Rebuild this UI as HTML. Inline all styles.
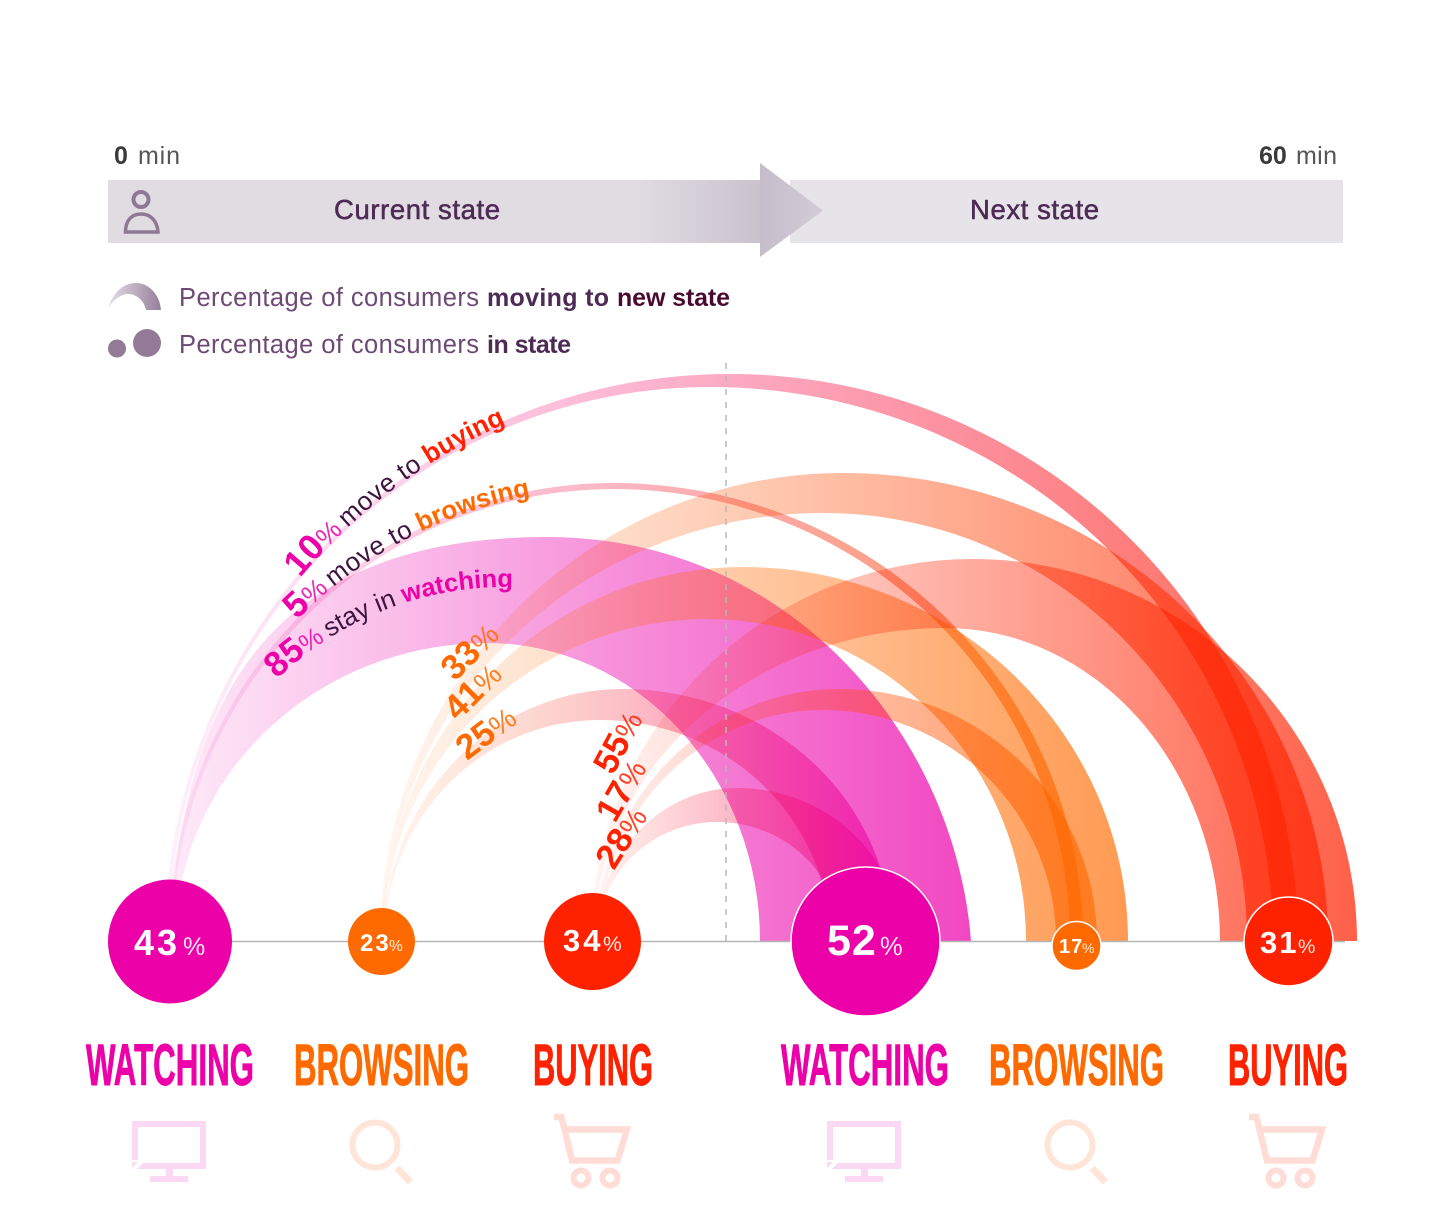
<!DOCTYPE html>
<html><head><meta charset="utf-8"><style>
html,body{margin:0;padding:0;background:#fff}
svg{display:block}
text{font-family:"Liberation Sans",sans-serif}
.n{font-weight:700;fill:#fff}
.p{font-weight:400;fill:#fff;fill-opacity:.9}
.lab{font-weight:700;font-size:58.5px;stroke-width:.9px}
</style></head><body>
<svg width="1440" height="1222" viewBox="0 0 1440 1222" xmlns="http://www.w3.org/2000/svg">
<defs>
<linearGradient id="gww" gradientUnits="userSpaceOnUse" x1="170" x2="971" y1="0" y2="0"><stop offset="0" stop-color="#ec00aa" stop-opacity=".08"/><stop offset="1" stop-color="#ec00aa" stop-opacity=".72"/></linearGradient>
<linearGradient id="gwb" gradientUnits="userSpaceOnUse" x1="170" x2="1083" y1="0" y2="0"><stop offset="0" stop-color="#ec00aa" stop-opacity=".06"/><stop offset="1" stop-color="#ff6a00" stop-opacity=".68"/></linearGradient>
<linearGradient id="gwu" gradientUnits="userSpaceOnUse" x1="170" x2="1298" y1="0" y2="0"><stop offset="0" stop-color="#ec00aa" stop-opacity=".06"/><stop offset="1" stop-color="#ff2200" stop-opacity=".66"/></linearGradient>
<linearGradient id="gbw" gradientUnits="userSpaceOnUse" x1="383" x2="892" y1="0" y2="0"><stop offset="0" stop-color="#ff6a00" stop-opacity=".06"/><stop offset="1" stop-color="#ec00aa" stop-opacity=".62"/></linearGradient>
<linearGradient id="gbb" gradientUnits="userSpaceOnUse" x1="383" x2="1128" y1="0" y2="0"><stop offset="0" stop-color="#ff6a00" stop-opacity=".06"/><stop offset="1" stop-color="#ff6a00" stop-opacity=".68"/></linearGradient>
<linearGradient id="gbu" gradientUnits="userSpaceOnUse" x1="383" x2="1328" y1="0" y2="0"><stop offset="0" stop-color="#ff6a00" stop-opacity=".06"/><stop offset="1" stop-color="#ff2200" stop-opacity=".68"/></linearGradient>
<linearGradient id="guw" gradientUnits="userSpaceOnUse" x1="595" x2="900" y1="0" y2="0"><stop offset="0" stop-color="#ff2200" stop-opacity=".05"/><stop offset="1" stop-color="#ec00aa" stop-opacity=".6"/></linearGradient>
<linearGradient id="gub" gradientUnits="userSpaceOnUse" x1="595" x2="1097" y1="0" y2="0"><stop offset="0" stop-color="#ff2200" stop-opacity=".05"/><stop offset="1" stop-color="#ff6a00" stop-opacity=".66"/></linearGradient>
<linearGradient id="guu" gradientUnits="userSpaceOnUse" x1="595" x2="1357" y1="0" y2="0"><stop offset="0" stop-color="#ff2200" stop-opacity=".05"/><stop offset="1" stop-color="#ff2200" stop-opacity=".72"/></linearGradient>
<linearGradient id="bar" gradientUnits="userSpaceOnUse" x1="108" x2="770" y1="0" y2="0"><stop offset="0" stop-color="#e0dce2"/><stop offset=".8" stop-color="#e0dce2"/><stop offset="1" stop-color="#c8c0cc"/></linearGradient>
<linearGradient id="head" gradientUnits="userSpaceOnUse" x1="760" x2="823" y1="0" y2="0"><stop offset="0" stop-color="#c6bdcb"/><stop offset="1" stop-color="#d2ccd6"/></linearGradient>
<linearGradient id="arch" gradientUnits="userSpaceOnUse" x1="108" x2="161" y1="0" y2="0"><stop offset="0" stop-color="#e4dfe7"/><stop offset="1" stop-color="#96809b"/></linearGradient>
<path id="t1" d="M300 578 A560 560 0 0 1 570 400"/>
<path id="t2" d="M297 620 A445 445 0 0 1 570 490"/>
<path id="t3" d="M277 679 A330 330 0 0 1 550 590"/>
</defs>

<!-- header -->
<text x="114" y="164" font-size="25" font-weight="700" fill="#3a3a3a">0</text>
<text x="138" y="164" font-size="25" fill="#555" textLength="42">min</text>
<text x="1259" y="164" font-size="25" font-weight="700" fill="#3a3a3a">60</text>
<text x="1296" y="164" font-size="25" fill="#555" textLength="41">min</text>
<rect x="790" y="180" width="553" height="63" fill="#e6e4e9"/>
<rect x="108" y="180" width="655" height="63" fill="url(#bar)"/>
<polygon points="760,163 823,210.5 760,257" fill="url(#head)"/>
<text x="334" y="219" font-size="27.5" fill="#4d2b55" stroke="#4d2b55" stroke-width=".55" textLength="166">Current state</text>
<text x="970" y="219" font-size="27.5" fill="#4d2b55" stroke="#4d2b55" stroke-width=".55" textLength="129">Next state</text>
<circle cx="141" cy="199.5" r="7.5" fill="none" stroke="#8e7893" stroke-width="4"/>
<path d="M125.5 232 C125.5 220 132 214 141 214 C150 214 157 220 158 232 Z" fill="none" stroke="#8e7893" stroke-width="3.5"/>

<!-- legend -->
<path d="M108 310 C112 292 124 283 136 283 C150 283 160 296 161 310 L146 310 C144 299 134 293 126 294 C118 296 110 303 108 310Z" fill="url(#arch)"/>
<circle cx="117" cy="348.5" r="9" fill="#937b98"/>
<circle cx="147" cy="343" r="14" fill="#937b98"/>
<text x="179" y="306" font-size="25.5" fill="#6d4a75" textLength="300">Percentage of consumers</text>
<text x="487" y="306" font-size="25" font-weight="700" fill="#4d2b55" textLength="122">moving to</text>
<text x="617" y="306" font-size="25" font-weight="700" fill="#4a0a30" textLength="113">new state</text>
<text x="179" y="353" font-size="25.5" fill="#6d4a75" textLength="300">Percentage of consumers</text>
<text x="487" y="353" font-size="25" font-weight="700" fill="#4d2b55" textLength="84">in state</text>

<!-- ribbons -->
<path fill="url(#gww)" d="M174 880 C195 700 270 537 547 537 C790 537 955 735 971 941 L760 941 A273 298 0 0 0 487 643 A312 298 0 0 0 182 880Z"/>
<path fill="url(#gwb)" d="M172 880 A445 458 0 0 1 613 483 A470 458 0 0 1 1083 941 L1070 941 A457 452 0 0 0 613 489 A441 452 0 0 0 176 880Z"/>
<path fill="url(#gwu)" d="M168 880 A564 567 0 0 1 730 374 A568 567 0 0 1 1298 941 L1273 941 A563 554 0 0 0 710 387 A541 554 0 0 0 172 880Z"/>
<path fill="url(#gbb)" d="M383 908 A361 374 0 0 1 743 567 A385 374 0 0 1 1128 941 L1026 941 A319 322 0 0 0 707 619 A324 322 0 0 0 385 908Z"/>
<path fill="url(#gbu)" d="M381 908 A463 468 0 0 1 843 473 A485 468 0 0 1 1328 941 L1247 941 A424 428 0 0 0 823 513 A440 428 0 0 0 384 908Z"/>
<path fill="url(#gbw)" d="M385 908 A240 252 0 0 1 623 689 A269 252 0 0 1 892 941 L830 941 A230 221 0 0 0 600 720 A215 221 0 0 0 387 908Z"/>
<path fill="url(#guu)" d="M594 893 A382 382 0 0 1 973 559 A384 382 0 0 1 1357 941 L1220 941 A275 313 0 0 0 945 628 A351 313 0 0 0 598 893Z"/>
<path fill="url(#gub)" d="M600 893 A244 252 0 0 1 840 689 A257 252 0 0 1 1097 941 L1056 941 A233 231 0 0 0 823 710 A224 231 0 0 0 604 893Z"/>
<path fill="url(#guw)" d="M603 893 A141 153 0 0 1 737 788 A163 153 0 0 1 900 941 L841 941 A124 119 0 0 0 717 822 A120 119 0 0 0 607 893Z"/>

<!-- axis lines -->
<line x1="170" y1="941.5" x2="1345" y2="941.5" stroke="#b5b5b5" stroke-width="1.5"/>
<line x1="726" y1="363" x2="726" y2="941" stroke="#b8b8b8" stroke-width="1.5" stroke-dasharray="6 7"/>

<!-- curved labels -->
<text font-size="26"><textPath href="#t1"><tspan font-size="36" font-weight="700" fill="#ec00a8">10</tspan><tspan font-size="27" fill="#ec00a8" fill-opacity=".85">%</tspan><tspan dx="5" fill="#3d1540" letter-spacing=".6">move to</tspan><tspan dx="7" font-size="26.5" font-weight="700" fill="#ff2200">buying</tspan></textPath></text>
<text font-size="26"><textPath href="#t2"><tspan font-size="36" font-weight="700" fill="#ec00a8">5</tspan><tspan font-size="27" fill="#ec00a8" fill-opacity=".85">%</tspan><tspan dx="5" fill="#3d1540" letter-spacing=".6">move to</tspan><tspan dx="7" font-size="26" font-weight="700" fill="#ff6a00">browsing</tspan></textPath></text>
<text font-size="26"><textPath href="#t3"><tspan font-size="35" font-weight="700" fill="#ec00a8">85</tspan><tspan font-size="26" fill="#ec00a8" fill-opacity=".85">%</tspan><tspan dx="5" fill="#3d1540">stay in</tspan><tspan dx="7" font-size="25.5" font-weight="700" fill="#ec00a8">watching</tspan></textPath></text>

<!-- rotated percentages -->
<g fill="#ff6a00">
<text transform="translate(455 682) rotate(-45)"><tspan font-size="35" font-weight="700">33</tspan><tspan font-size="29" fill-opacity=".85">%</tspan></text>
<text transform="translate(458 722) rotate(-45)"><tspan font-size="35" font-weight="700">41</tspan><tspan font-size="29" fill-opacity=".85">%</tspan></text>
<text transform="translate(467 761) rotate(-37)"><tspan font-size="35" font-weight="700">25</tspan><tspan font-size="29" fill-opacity=".85">%</tspan></text>
</g>
<g fill="#ff2200">
<text transform="translate(613 776) rotate(-62)"><tspan font-size="35" font-weight="700">55</tspan><tspan font-size="29" fill-opacity=".85">%</tspan></text>
<text transform="translate(615 824) rotate(-60)"><tspan font-size="35" font-weight="700">17</tspan><tspan font-size="29" fill-opacity=".85">%</tspan></text>
<text transform="translate(614 871) rotate(-58)"><tspan font-size="35" font-weight="700">28</tspan><tspan font-size="29" fill-opacity=".85">%</tspan></text>
</g>

<!-- circles -->
<circle cx="170" cy="941.5" r="62" fill="#ec00a8"/>
<circle cx="381.5" cy="941.5" r="33.5" fill="#ff6a00"/>
<circle cx="592.5" cy="941.5" r="48.5" fill="#ff2200"/>
<circle cx="865.5" cy="941.5" r="74.5" fill="#ec00a8" stroke="#fff" stroke-width="1.5"/>
<circle cx="1076.5" cy="946" r="24.5" fill="#ff6a00" stroke="#fff" stroke-width="1.5"/>
<circle cx="1288.5" cy="941.5" r="44.5" fill="#ff2200" stroke="#fff" stroke-width="1.5"/>

<text class="n" x="134" y="955" font-size="36" letter-spacing="3">43</text><text class="p" x="183" y="955" font-size="25">%</text>
<text class="n" x="360" y="951" font-size="24" letter-spacing="2">23</text><text class="p" x="389" y="951" font-size="15.5">%</text>
<text class="n" x="563" y="951" font-size="31" letter-spacing="3">34</text><text class="p" x="603" y="951" font-size="21">%</text>
<text class="n" x="827" y="955" font-size="43" letter-spacing="1">52</text><text class="p" x="880" y="955" font-size="25.5">%</text>
<text class="n" x="1059" y="953" font-size="20" letter-spacing="1">17</text><text class="p" x="1082" y="953" font-size="14">%</text>
<text class="n" x="1260" y="953" font-size="31" letter-spacing="2">31</text><text class="p" x="1298" y="953" font-size="19.5">%</text>

<!-- state labels -->
<text class="lab" x="86" y="1085" fill="#ec00a8" stroke="#ec00a8" textLength="168" lengthAdjust="spacingAndGlyphs">WATCHING</text>
<text class="lab" x="294" y="1085" fill="#ff6a00" stroke="#ff6a00" textLength="175" lengthAdjust="spacingAndGlyphs">BROWSING</text>
<text class="lab" x="533" y="1085" fill="#ff2200" stroke="#ff2200" textLength="120" lengthAdjust="spacingAndGlyphs">BUYING</text>
<text class="lab" x="781" y="1085" fill="#ec00a8" stroke="#ec00a8" textLength="168" lengthAdjust="spacingAndGlyphs">WATCHING</text>
<text class="lab" x="989" y="1085" fill="#ff6a00" stroke="#ff6a00" textLength="175" lengthAdjust="spacingAndGlyphs">BROWSING</text>
<text class="lab" x="1228" y="1085" fill="#ff2200" stroke="#ff2200" textLength="120" lengthAdjust="spacingAndGlyphs">BUYING</text>

<!-- icons -->
<g>
<path d="M135 1160 V1124 H203 V1166 H143" fill="none" stroke="#fbd9f2" stroke-width="6"/>
<polygon points="132,1162 138,1162 132,1168" fill="#fbd9f2"/>
<polygon points="143,1163 137,1169 143,1169" fill="#fbd9f2"/>
<rect x="166" y="1169" width="7" height="8" fill="#fbd9f2"/>
<rect x="150" y="1176" width="38" height="6" fill="#fbd9f2"/>
<circle cx="375" cy="1145" r="22.5" fill="none" stroke="#ffe5d8" stroke-width="6"/>
<line x1="397" y1="1168" x2="410.5" y2="1182" stroke="#ffe5d8" stroke-width="7"/>
<path d="M554 1117 H561.5 L572 1160.5 H617.5 L627 1129.5 H563" fill="none" stroke="#ffdcd6" stroke-width="6.5"/>
<circle cx="581" cy="1178" r="7.5" fill="none" stroke="#ffdcd6" stroke-width="6"/>
<circle cx="610" cy="1178" r="7.5" fill="none" stroke="#ffdcd6" stroke-width="6"/>
</g>
<g transform="translate(695 0)">
<path d="M135 1160 V1124 H203 V1166 H143" fill="none" stroke="#fbd9f2" stroke-width="6"/>
<polygon points="132,1162 138,1162 132,1168" fill="#fbd9f2"/>
<polygon points="143,1163 137,1169 143,1169" fill="#fbd9f2"/>
<rect x="166" y="1169" width="7" height="8" fill="#fbd9f2"/>
<rect x="150" y="1176" width="38" height="6" fill="#fbd9f2"/>
<circle cx="375" cy="1145" r="22.5" fill="none" stroke="#ffe5d8" stroke-width="6"/>
<line x1="397" y1="1168" x2="410.5" y2="1182" stroke="#ffe5d8" stroke-width="7"/>
<path d="M554 1117 H561.5 L572 1160.5 H617.5 L627 1129.5 H563" fill="none" stroke="#ffdcd6" stroke-width="6.5"/>
<circle cx="581" cy="1178" r="7.5" fill="none" stroke="#ffdcd6" stroke-width="6"/>
<circle cx="610" cy="1178" r="7.5" fill="none" stroke="#ffdcd6" stroke-width="6"/>
</g>
</svg>
</body></html>
